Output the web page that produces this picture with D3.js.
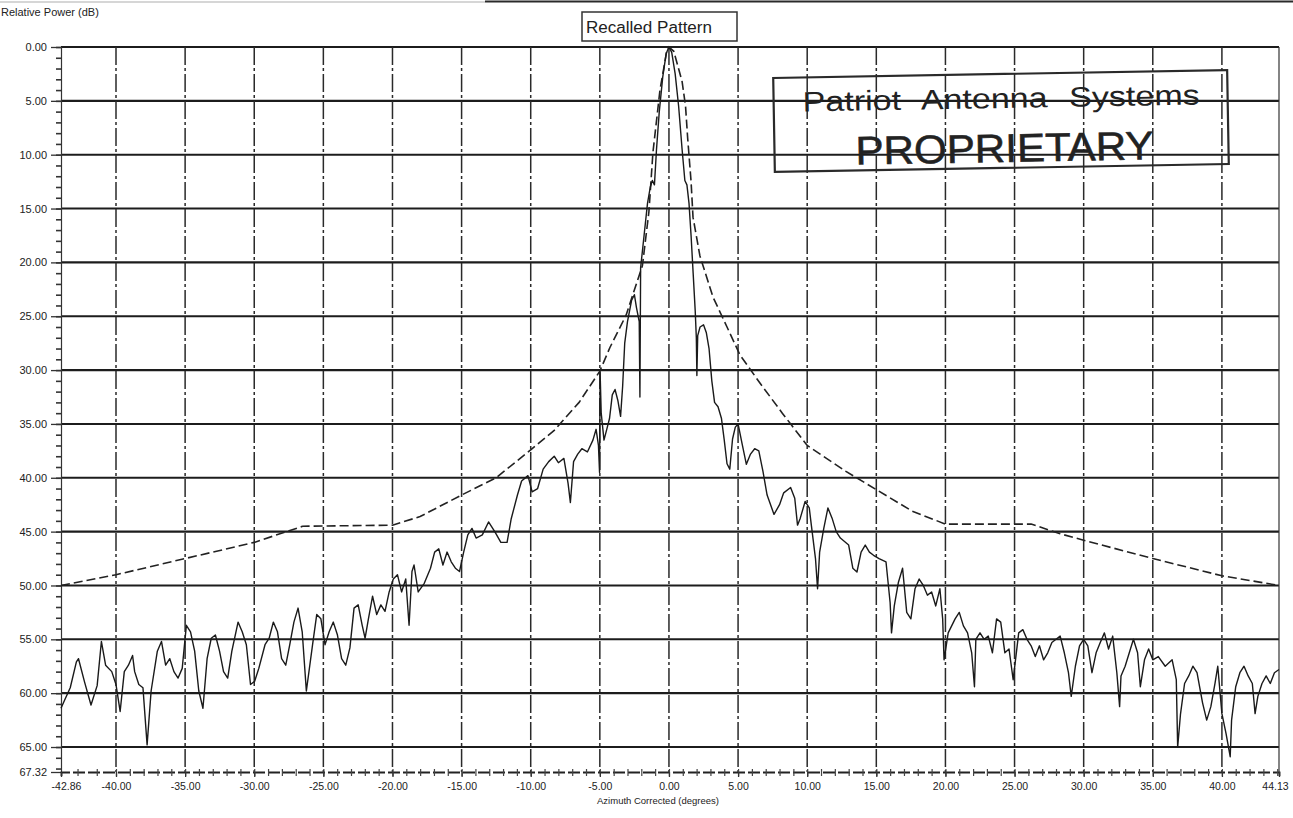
<!DOCTYPE html>
<html><head><meta charset="utf-8">
<script src="https://cdn.jsdelivr.net/npm/d3@7"></script>
<style>
html,body{margin:0;padding:0;background:#fff;}
svg{display:block;font-family:"Liberation Sans",Arial,Helvetica,sans-serif;}
</style></head><body>
<svg id="c" width="1293" height="818"></svg>
<script>
// ---------- data ----------
const xTickValues = [-42.86,-40,-35,-30,-25,-20,-15,-10,-5,0,5,10,15,20,25,30,35,40,44.13];
const xTickLabels = ["-42.86","-40.00","-35.00","-30.00","-25.00","-20.00","-15.00","-10.00","-5.00","0.00","5.00","10.00","15.00","20.00","25.00","30.00","35.00","40.00","44.13"];
const yTickValues = [0,5,10,15,20,25,30,35,40,45,50,55,60,65,67.32];
const yTickLabels = ["0.00","5.00","10.00","15.00","20.00","25.00","30.00","35.00","40.00","45.00","50.00","55.00","60.00","65.00","67.32"];

// envelope (dashed spec line): [azimuth deg, relative power dB]
const envelope = [
[-42.86,50.0],[-40,49.0],[-35,47.5],[-30,46.0],[-26.5,44.5],[-20,44.4],[-18,43.6],[-15,41.6],[-12.5,40.0],
[-10,37.4],[-8.3,35.6],[-6.5,33.0],[-5,30.1],[-4.27,27.9],[-3.1,24.9],[-1.92,20.3],[-1.45,15.3],[-1.16,9.8],
[-0.65,4.0],[-0.15,0.3],[0,0],[0.35,0.4],[0.95,3.2],[1.2,5.5],[1.35,8.4],[1.6,12.5],[1.74,15.8],[2.24,19.4],
[3.18,23.2],[4.2,26.0],[5.14,28.6],[6.58,31.2],[8.2,34.0],[10,37.0],[12.8,39.4],[15,41.1],[17.6,43.1],
[20,44.3],[26.2,44.3],[28.3,45.2],[30,45.8],[35,47.5],[40,49.1],[44.13,50.0]
];

// measured recalled pattern: [azimuth deg, relative power dB]
const measured = [
[-42.86,61.4],[-42.71,60.8],[-42.38,59.5],[-42.06,57.1],[-41.95,56.8],[-41.63,59.0],[-41.30,61.1],[-40.98,59.3],
[-40.76,55.2],[-40.54,57.4],[-40.22,58.0],[-40.00,59.2],[-39.70,61.7],[-39.40,58.0],[-39.10,57.4],[-38.80,56.5],
[-38.65,58.0],[-38.35,59.2],[-38.05,59.5],[-37.75,64.8],[-37.46,59.8],[-37.01,56.1],[-36.71,55.2],[-36.41,57.4],
[-36.11,56.8],[-35.81,58.0],[-35.51,58.6],[-35.21,57.7],[-34.91,53.7],[-34.61,54.3],[-34.31,56.1],[-34.01,59.8],
[-33.71,61.4],[-33.41,56.8],[-33.11,54.9],[-32.81,54.6],[-32.51,56.1],[-32.22,58.0],[-31.92,58.6],[-31.62,56.1],
[-31.17,53.4],[-30.87,54.3],[-30.57,55.5],[-30.27,59.2],[-29.97,58.9],[-29.67,57.7],[-29.22,55.5],[-28.92,54.9],
[-28.62,53.4],[-28.32,54.3],[-28.02,56.8],[-27.72,57.4],[-27.43,55.5],[-27.13,53.4],[-26.83,52.1],[-26.53,54.3],
[-26.23,59.8],[-25.78,55.5],[-25.48,52.7],[-25.18,53.1],[-24.88,55.5],[-24.58,54.3],[-24.28,53.4],[-23.98,54.6],
[-23.68,56.8],[-23.38,57.4],[-23.08,55.8],[-22.78,52.1],[-22.48,51.8],[-22.19,53.7],[-21.98,54.9],[-21.74,53.1],
[-21.44,51.0],[-21.14,52.7],[-20.84,51.8],[-20.54,52.4],[-20.24,50.6],[-19.94,49.4],[-19.64,49.0],[-19.34,50.6],
[-19.04,49.4],[-18.80,53.7],[-18.59,48.7],[-18.44,48.1],[-18.14,50.6],[-17.70,49.8],[-17.25,48.4],[-16.95,46.9],
[-16.65,46.6],[-16.35,48.1],[-16.05,46.9],[-15.75,47.8],[-15.45,48.4],[-15.15,48.7],[-14.85,46.9],[-14.55,45.3],
[-14.25,44.7],[-13.95,45.6],[-13.50,45.3],[-13.05,44.1],[-12.60,45.0],[-12.16,46.0],[-11.71,46.0],[-11.41,43.8],
[-10.96,41.6],[-10.66,40.3],[-10.2,39.8],[-9.9,41.3],[-9.5,41.0],[-9.1,39.2],[-8.7,38.5],[-8.3,38.0],[-8.0,38.6],
[-7.6,38.2],[-7.3,40.5],[-7.13,42.3],[-6.9,38.5],[-6.6,37.8],[-6.3,37.3],[-5.9,37.6],[-5.5,36.5],[-5.27,35.5],
[-5.1,37.0],[-5.02,39.5],[-4.98,30.2],[-4.9,34.0],[-4.7,36.5],[-4.5,35.5],[-4.3,34.5],[-4.1,32.3],[-3.9,31.8],
[-3.7,32.8],[-3.5,34.3],[-3.35,31.5],[-3.2,27.5],[-3.0,25.5],[-2.7,23.5],[-2.5,23.0],[-2.35,24.2],[-2.15,25.5],
[-2.1,32.5],[-2.05,20.5],[-1.8,17.5],[-1.55,14.5],[-1.35,13.0],[-1.2,12.4],[-1.05,12.8],[-0.9,9.5],[-0.7,6.0],
[-0.45,2.8],[-0.2,0.6],[0,0],
[0.2,0.5],[0.45,2.5],[0.7,5.5],[0.95,9.5],[1.15,12.4],[1.3,12.8],[1.45,14.5],[1.6,17.5],[1.75,21.0],[1.9,24.5],
[1.98,27.0],[2.02,30.5],[2.08,26.8],[2.25,26.0],[2.5,25.8],[2.7,26.5],[2.9,28.0],[3.1,31.0],[3.3,33.0],[3.55,33.4],
[3.8,34.5],[4.0,36.5],[4.2,38.7],[4.4,39.2],[4.6,36.4],[4.8,35.3],[5.0,35.0],[5.3,36.9],[5.6,38.75],[5.9,37.8],
[6.2,37.3],[6.5,37.5],[6.8,39.4],[7.1,41.6],[7.6,43.4],[8.0,42.5],[8.3,41.4],[8.8,40.9],[9.1,41.9],[9.3,44.4],
[9.5,43.75],[9.85,42.2],[10.15,42.8],[10.3,44.4],[10.6,47.5],[10.75,50.3],[10.9,46.9],[11.2,44.7],[11.5,42.8],
[11.8,43.75],[12.1,45.0],[12.4,45.6],[13.0,46.25],[13.3,48.4],[13.6,48.75],[13.9,46.9],[14.2,46.25],[14.5,46.9],
[14.8,47.2],[15.2,47.5],[15.7,47.8],[16.0,51.6],[16.1,54.4],[16.3,51.9],[16.6,49.7],[16.9,48.4],[17.2,52.5],
[17.5,53.1],[17.8,50.3],[18.1,49.4],[18.4,50.0],[18.7,50.9],[19.0,50.6],[19.3,51.9],[19.6,50.3],[19.8,53.1],
[19.9,56.9],[20.2,54.4],[20.7,53.1],[21.0,52.5],[21.3,53.75],[21.6,54.4],[21.9,56.25],[22.1,59.4],[22.2,55.0],
[22.5,54.4],[22.8,55.0],[23.1,54.7],[23.4,56.25],[23.7,53.1],[24.0,53.4],[24.3,56.25],[24.6,55.9],[24.9,58.75],
[25.3,54.4],[25.6,54.1],[25.9,55.0],[26.2,55.6],[26.5,56.6],[26.8,55.6],[27.1,56.9],[27.4,56.25],[27.7,55.3],
[28.0,55.0],[28.3,54.7],[28.6,56.25],[28.9,58.1],[29.1,60.3],[29.4,57.5],[29.7,55.6],[30.0,55.0],[30.3,55.6],
[30.6,58.1],[30.9,56.25],[31.2,55.3],[31.5,54.4],[31.8,55.9],[32.1,54.7],[32.4,58.1],[32.6,61.25],[32.7,58.4],
[33.0,57.5],[33.3,56.25],[33.6,55.0],[33.9,56.25],[34.1,59.4],[34.4,56.9],[34.7,55.9],[35.0,56.9],[35.4,56.6],
[35.9,57.5],[36.4,56.9],[36.7,58.75],[36.8,65.0],[37.0,62.0],[37.3,59.1],[37.6,58.4],[37.9,57.5],[38.2,58.1],
[38.6,60.9],[38.9,62.5],[39.2,61.25],[39.5,59.1],[39.7,57.5],[40.0,61.9],[40.3,63.75],[40.6,65.9],[40.7,62.5],
[41.0,59.4],[41.3,58.1],[41.6,57.5],[41.9,58.4],[42.2,59.1],[42.4,61.9],[42.6,60.3],[42.9,59.1],[43.2,58.4],
[43.5,59.1],[43.8,58.1],[44.13,57.8]
];

const yAxisTitle = "Relative Power (dB)";
const xAxisTitle = "Azimuth Corrected (degrees)";
const legendLabel = "Recalled Pattern";
const stampLine1 = "Patriot Antenna Systems";
const stampLine2 = "PROPRIETARY";

// ---------- drawing ----------
const svg = d3.select("#c");
const ink = "#1c1c1c";
const x = d3.scaleLinear().domain([-42.86,-40,44.13]).range([61,116,1279]);
const y = d3.scaleLinear().domain([0,67.32]).range([47,772]);
const [x0,x1] = [x(-42.86), x(44.13)];

// scan edge line at the top
svg.append("line").attr("x1",485).attr("x2",1293).attr("y1",1.5).attr("y2",1.5)
  .attr("stroke","#2a2a2a").attr("stroke-width",2.2);
svg.append("line").attr("x1",0).attr("x2",485).attr("y1",2).attr("y2",2)
  .attr("stroke","#c8c8c8").attr("stroke-width",1.5);

// horizontal grid lines (solid)
svg.append("g").selectAll("line").data(yTickValues.filter(v=>v<67)).join("line")
  .attr("x1",x0).attr("x2",x1).attr("y1",d=>y(d)).attr("y2",d=>y(d))
  .attr("stroke",ink).attr("stroke-width",2.1);

// vertical grid lines (dash-dot)
svg.append("g").selectAll("line").data(xTickValues.slice(1,-1)).join("line")
  .attr("x1",d=>x(d)).attr("x2",d=>x(d)).attr("y1",y(0)).attr("y2",y(67.32))
  .attr("stroke","#2a2a2a").attr("stroke-width",1.5).attr("stroke-dasharray","18,3,3,3");

// right border
svg.append("line").attr("x1",x1).attr("x2",x1).attr("y1",y(0)).attr("y2",y(67.32))
  .attr("stroke","#333").attr("stroke-width",1.2);

// left axis minor ticks
const minorY = d3.range(0,68,1);
svg.append("g").attr("transform",`translate(${x0},0)`)
  .call(d3.axisLeft(y).tickValues(minorY).tickSize(5).tickFormat(""))
  .call(g=>g.select(".domain").attr("stroke","#333").attr("stroke-width",1.2))
  .call(g=>g.selectAll(".tick line").attr("stroke","#333").attr("stroke-width",1.6));

// left axis major
svg.append("g").attr("transform",`translate(${x0},0)`)
  .call(d3.axisLeft(y).tickValues(yTickValues).tickSize(10).tickPadding(4).tickFormat((d,i)=>yTickLabels[i]))
  .call(g=>g.select(".domain").remove())
  .call(g=>g.selectAll(".tick line").attr("stroke","#333").attr("stroke-width",1.3))
  .call(g=>g.selectAll(".tick text").attr("font-size",11).attr("fill","#222")
     .attr("font-family","'Liberation Sans',Arial,sans-serif"));

// bottom axis minor ticks
const minorX = d3.range(-42,45,1);
svg.append("g").attr("transform",`translate(0,${y(67.32)})`)
  .call(d3.axisBottom(x).tickValues(minorX).tickSize(4).tickFormat(""))
  .call(g=>g.select(".domain").attr("stroke","#222").attr("stroke-width",1.8).attr("stroke-dasharray","12,3"))
  .call(g=>g.selectAll(".tick line").attr("stroke","#444").attr("stroke-width",1.2).attr("y1",-3));

// bottom axis major labels
svg.append("g").attr("transform",`translate(0,${y(67.32)})`)
  .call(d3.axisBottom(x).tickValues(xTickValues).tickSize(5).tickPadding(6).tickFormat((d,i)=>xTickLabels[i]))
  .call(g=>g.select(".domain").remove())
  .call(g=>g.selectAll(".tick line").attr("stroke","#333").attr("stroke-width",1.3))
  .call(g=>g.selectAll(".tick text").attr("font-size",10.5).attr("fill","#222")
     .attr("font-family","'Liberation Sans',Arial,sans-serif")
     .attr("dx",(d,i)=> i===0 ? 5 : (i===xTickValues.length-1 ? -4 : 0)));

// axis titles
svg.append("text").attr("x",658).attr("y",804).attr("text-anchor","middle")
  .attr("font-size",9.5).attr("fill","#222").text(xAxisTitle);
svg.append("text").attr("x",1).attr("y",16).attr("font-size",11).attr("fill","#222").text(yAxisTitle);

// envelope (dashed)
const line = d3.line().x(d=>x(d[0])).y(d=>y(d[1]));
svg.append("path").datum(envelope).attr("d",line).attr("fill","none")
  .attr("stroke","#222").attr("stroke-width",1.6).attr("stroke-dasharray","9,4");

// measured pattern
svg.append("path").datum(measured).attr("d",line).attr("fill","none")
  .attr("stroke","#1a1a1a").attr("stroke-width",1.4).attr("stroke-linejoin","round");

// legend box
svg.append("rect").attr("x",582).attr("y",12).attr("width",155).attr("height",29)
  .attr("fill","none").attr("stroke","#333").attr("stroke-width",1.5);
svg.append("text").attr("x",586).attr("y",33).attr("font-size",16).attr("fill","#222")
  .attr("textLength",126).attr("lengthAdjust","spacingAndGlyphs").text(legendLabel);

// proprietary stamp
const st = svg.append("g").attr("transform","rotate(-1,1001,121)");
st.append("rect").attr("x",774).attr("y",74).attr("width",454).attr("height",94)
  .attr("fill","none").attr("stroke","#2a2a2a").attr("stroke-width",2.2);
st.append("text").attr("x",803).attr("y",108).attr("font-size",28).attr("fill","#222")
  .attr("word-spacing",10)
  .attr("textLength",397).attr("lengthAdjust","spacingAndGlyphs").text(stampLine1);
st.append("text").attr("x",855).attr("y",162).attr("font-size",40).attr("fill","#222")
  .attr("stroke","#222").attr("stroke-width",0.6)
  .attr("textLength",298).attr("lengthAdjust","spacingAndGlyphs").text(stampLine2);
</script>
</body></html>
